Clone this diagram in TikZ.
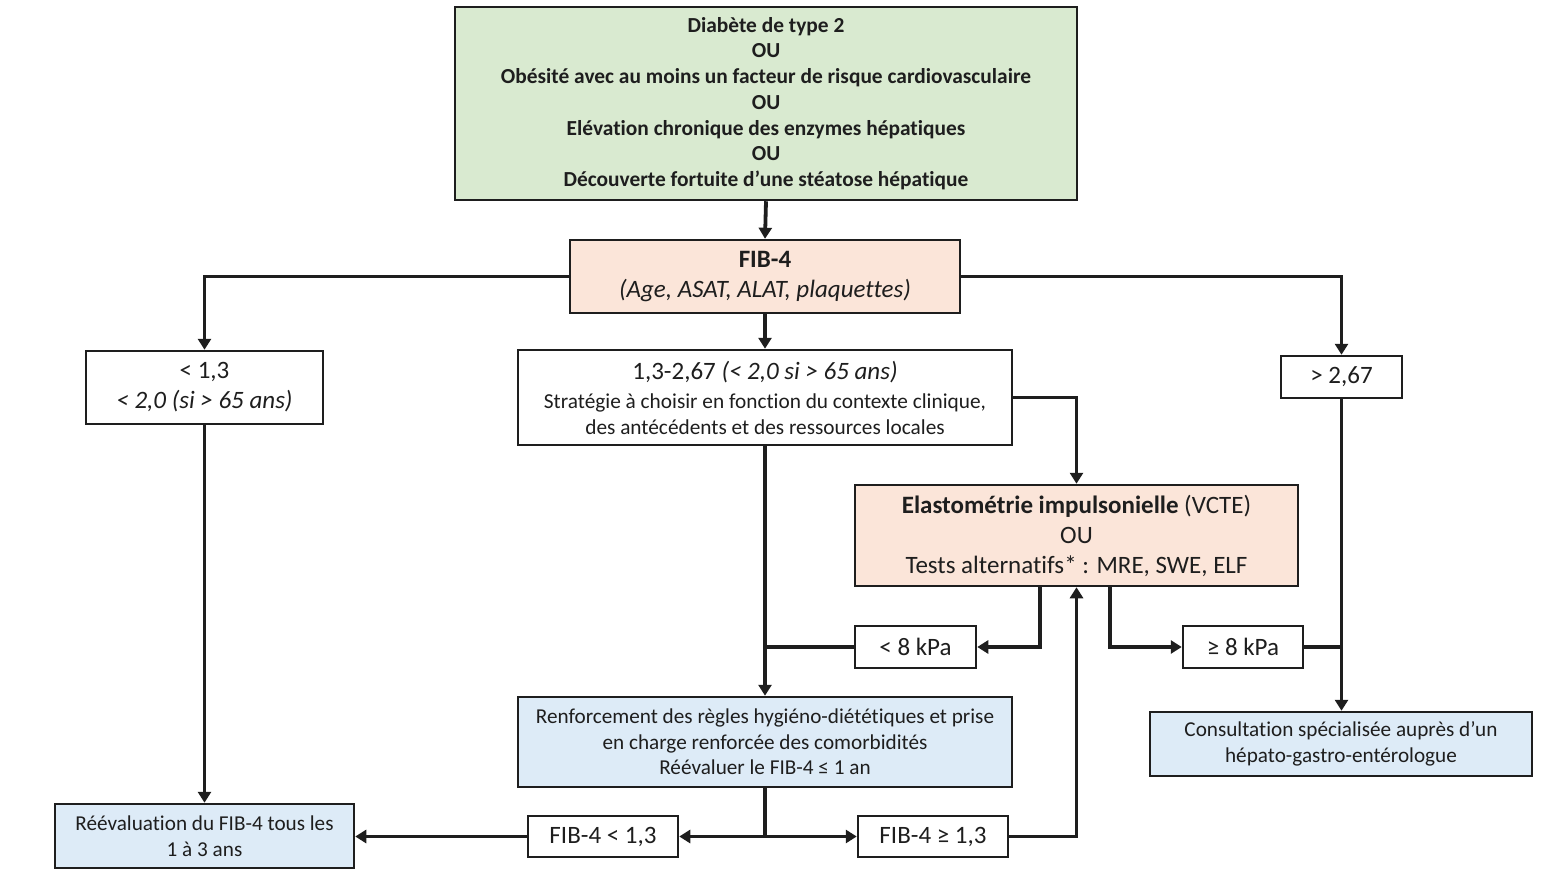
\documentclass[tikz,border=0pt]{standalone}
\usepackage{fontspec}
\setmainfont[Ligatures=NoCommon]{Carlito}
\usetikzlibrary{arrows.meta}
\definecolor{gfill}{HTML}{D9EAD0}
\definecolor{pfill}{HTML}{FBE5D9}
\definecolor{bfill}{HTML}{DDEBF7}
\definecolor{ink}{HTML}{1E1E1E}
\tikzset{
  x=1pt,y=-1pt,
  box/.style={draw=ink,line width=2.5pt,rectangle,inner sep=0pt,align=center,text=ink},
  conn/.style={draw=ink,line width=3.8pt},
  arr/.style={conn,-{Triangle[width=13pt,length=11pt]}},
  fa/.style={font=\fontsize{21.4}{25.7}\selectfont},
  fb/.style={font=\fontsize{25}{30}\selectfont},
  fc/.style={font=\fontsize{21.2}{25.5}\selectfont},
}
\begin{document}
\begin{tikzpicture}
\useasboundingbox (0,0) rectangle (1550,877);
% nodes
\node[box,fa,fill=gfill,minimum width=622,minimum height=193] (top) at (766,103.5)
  {\textbf{Diabète de type 2}\\ \textbf{OU}\\ \textbf{Obésité avec au moins un facteur de risque cardiovasculaire}\\ \textbf{OU}\\ \textbf{Elévation chronique des enzymes hépatiques}\\ \textbf{OU}\\ \textbf{Découverte fortuite d’une stéatose hépatique}};
\node[box,fb,fill=pfill,minimum width=390,minimum height=73] (fib) at (765,276.5)
  {\textbf{FIB-4}\\ \textit{(Age, ASAT, ALAT, plaquettes)}};
\node[box,fb,fill=white,minimum width=237,minimum height=73] (low) at (204.5,387.5)
  {< 1,3\\ \textit{< 2,0 (si > 65 ans)}};
\node[box,fill=white,minimum width=494,minimum height=95,font=\fontsize{21.3}{26}\selectfont] (mid) at (765,397.5)
  {{\fontsize{25}{26}\selectfont 1,3-2,67 \textit{(< 2,0 si > 65 ans)}}\\[3pt]
   Stratégie à choisir en fonction du contexte clinique,\\
   des antécédents et des ressources locales};
\node[box,fb,fill=white,minimum width=121,minimum height=42] (high) at (1341.5,377) {> 2,67};
\node[box,fb,fill=pfill,minimum width=443,minimum height=101] (elasto) at (1076.5,535.5)
  {\textbf{Elastométrie impulsonielle} (VCTE)\\ OU\\ Tests alternatifs* : MRE, SWE, ELF};
\node[box,fb,fill=white,minimum width=121,minimum height=42] (lt8) at (915.5,647) {< 8 kPa};
\node[box,fb,fill=white,minimum width=120,minimum height=42] (ge8) at (1243,647) {≥ 8 kPa};
\node[box,fc,fill=bfill,minimum width=494,minimum height=90] (ren) at (765,742)
  {Renforcement des règles hygiéno-diététiques et prise\\ en charge renforcée des comorbidités\\ Réévaluer le FIB-4 ≤ 1 an};
\node[box,fc,fill=bfill,minimum width=382,minimum height=64] (cons) at (1341,744)
  {Consultation spécialisée auprès d’un\\ hépato-gastro-entérologue};
\node[box,fc,fill=bfill,minimum width=299,minimum height=64] (reev) at (204.5,836)
  {Réévaluation du FIB-4 tous les\\ 1 à 3 ans};
\node[box,fb,fill=white,minimum width=150,minimum height=41] (f1) at (603,836.5) {FIB-4 < 1,3};
\node[box,fb,fill=white,minimum width=150,minimum height=41] (f2) at (933,836.5) {FIB-4 ≥ 1,3};
\coordinate (e1) at (1040,586);
\coordinate (e2) at (1110,586);
\coordinate (j) at (765,836.5);
% connectors
\draw[arr] (top.south) -- (fib.north);
\draw[arr] (fib.west) -| (low.north);
\draw[arr] (fib.east) -| (high.north);
\draw[arr] (fib.south) -- (mid.north);
\draw[arr] (mid.east) -| (elasto.north);
\draw[arr] (mid.south) -- (ren.north);
\draw[arr] (e1) |- (lt8.east);
\draw[conn] (lt8.west) -- (lt8.west -| mid.south);
\draw[arr] (e2) |- (ge8.west);
\draw[conn] (ge8.east) -- (ge8.east -| high.south);
\draw[arr] (high.south) -- (high.south |- cons.north);
\draw[arr] (low.south) -- (low.south |- reev.north);
\draw[conn] (ren.south) -- (j);
\draw[arr] (j) -- (f1.east);
\draw[arr] (j) -- (f2.west);
\draw[arr] (f1.west) -- (f1.west -| reev.east);
\draw[arr] (f2.east) -| (elasto.south);
\end{tikzpicture}
\end{document}
